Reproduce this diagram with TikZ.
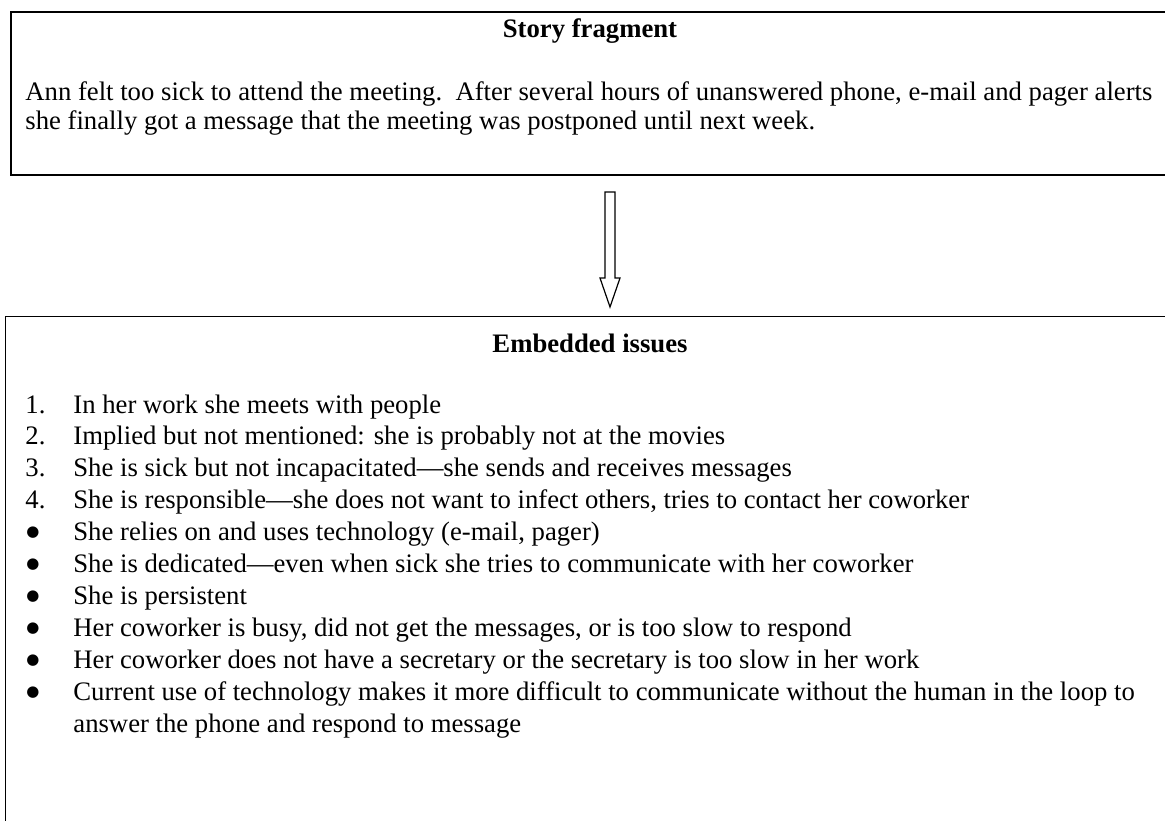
\documentclass[tikz,border=0pt]{standalone}
\usepackage{fontspec}
\setmainfont{Liberation Serif}
\newfontfamily\symbolfont{DejaVu Sans}
\usetikzlibrary{calc}
\newcommand{\bigdot}{\raisebox{2pt}{\symbolfont\fontsize{7.5pt}{8pt}\selectfont ●}}
\begin{document}
\begin{tikzpicture}[x=0.5pt,y=-0.5pt,
  panel/.style={draw=black, line width=0.9pt, inner sep=0pt, anchor=north west},
  bodytext/.style={anchor=base west, inner sep=0pt, font=\fontsize{13.35pt}{16pt}\selectfont},
  marker/.style={anchor=base west, inner sep=0pt},
  title/.style={anchor=base, inner sep=0pt, font=\fontsize{13.35pt}{16pt}\selectfont\bfseries},
  hollowarrow/.style={draw=black, line width=0.6pt, fill=white, line join=miter}]
\useasboundingbox (0,0) rectangle (1165,820);
\clip (0,0) rectangle (1165,820);

% the two panels run off the right (and lower) edge
\node[panel, minimum width=590pt, minimum height=81.5pt] (story) at (10,11) {};
\node[panel, line width=0.65pt, minimum width=600pt, minimum height=260pt] (issues) at (5,316) {};

% story panel
\node[title] (storytitle) at (590,37) {Story fragment};
\node[bodytext] (storyA) at (25,100) {Ann felt too sick to attend the meeting.\ \ After several hours of unanswered phone, e-mail and pager alerts};
\node[bodytext] (storyB) at (25,129) {she finally got a message that the meeting was postponed until next week.};

% hollow block arrow between the panels
\coordinate (arrtop) at (610,192);
\coordinate (arrtip) at (610,307);
\draw[hollowarrow]
  ($(arrtop)+(-5,0)$) -- ($(arrtop)+(5,0)$) -- ($(arrtip)+(5,-29)$) -- ($(arrtip)+(10,-29)$)
  -- (arrtip) -- ($(arrtip)+(-10,-29)$) -- ($(arrtip)+(-5,-29)$) -- cycle;

% issues panel
\node[title] (issuestitle) at (590,352) {Embedded issues};

\def\numx{25}
\def\dotx{26}
\def\txtx{73}
\node[bodytext] (n1) at (\numx,413.0) {1.};
\node[bodytext] (i1) at (\txtx,413.0) {In her work she meets with people};
\node[bodytext] (n2) at (\numx,444.9) {2.};
\node[bodytext] (i2) at (\txtx,444.9) {Implied but not mentioned: she is probably not at the movies};
\node[bodytext] (n3) at (\numx,476.8) {3.};
\node[bodytext] (i3) at (\txtx,476.8) {She is sick but not incapacitated—she sends and receives messages};
\node[bodytext] (n4) at (\numx,508.7) {4.};
\node[bodytext] (i4) at (\txtx,508.7) {She is responsible—she does not want to infect others, tries to contact her coworker};
\node[marker] (b5) at (\dotx,540.6) {\bigdot};
\node[bodytext] (i5) at (\txtx,540.6) {She relies on and uses technology (e-mail, pager)};
\node[marker] (b6) at (\dotx,572.5) {\bigdot};
\node[bodytext] (i6) at (\txtx,572.5) {She is dedicated—even when sick she tries to communicate with her coworker};
\node[marker] (b7) at (\dotx,604.4) {\bigdot};
\node[bodytext] (i7) at (\txtx,604.4) {She is persistent};
\node[marker] (b8) at (\dotx,636.3) {\bigdot};
\node[bodytext] (i8) at (\txtx,636.3) {Her coworker is busy, did not get the messages, or is too slow to respond};
\node[marker] (b9) at (\dotx,668.2) {\bigdot};
\node[bodytext] (i9) at (\txtx,668.2) {Her coworker does not have a secretary or the secretary is too slow in her work};
\node[marker] (b10) at (\dotx,700.1) {\bigdot};
\node[bodytext] (i10) at (\txtx,700.1) {Current use of technology makes it more difficult to communicate without the human in the loop to};
\node[bodytext] (i10b) at (\txtx,732.0) {answer the phone and respond to message};
\end{tikzpicture}
\end{document}
